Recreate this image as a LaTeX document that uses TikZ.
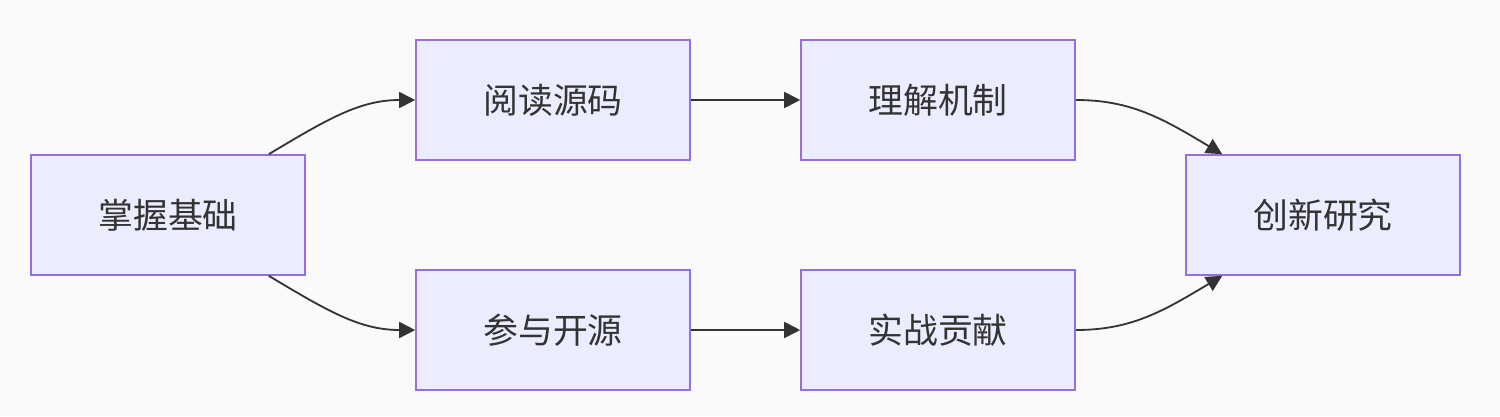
\documentclass[tikz,border=0pt]{standalone}
\usepackage{fontspec}
\setmainfont{Noto Sans CJK SC}
\usetikzlibrary{arrows.meta}
\definecolor{bg}{HTML}{FAFAFA}
\definecolor{boxfill}{HTML}{ECECFF}
\definecolor{boxline}{HTML}{9370DB}
\definecolor{ink}{HTML}{333333}
\begin{document}
\begin{tikzpicture}[x=1bp,y=-1bp,
  box/.style={draw=boxline,fill=boxfill,line width=1.6bp,minimum width=274bp,minimum height=120bp,inner sep=0pt,text=ink,font=\fontsize{35}{40}\selectfont},
  link/.style={draw=ink,line width=1.8bp,-{Triangle[length=16bp,width=16bp]}}]
\fill[bg] (0,0) rectangle (1500,416);
\useasboundingbox (0,0) rectangle (1500,416);
\node[box] (a) at (168,215) {掌握基础};
\node[box] (b) at (553,100) {阅读源码};
\node[box] (c) at (553,330) {参与开源};
\node[box] (d) at (938,100) {理解机制};
\node[box] (e) at (938,330) {实战贡献};
\node[box] (f) at (1323,215) {创新研究};
\draw[link] ([xshift=-37bp]a.north east) .. controls +(60,-36) and +(-55,0) .. (b.west);
\draw[link] ([xshift=-37bp]a.south east) .. controls +(60,36) and +(-55,0) .. (c.west);
\draw[link] (b.east) -- (d.west);
\draw[link] (c.east) -- (e.west);
\draw[link] (d.east) .. controls +(55,0) and +(-60,-36) .. ([xshift=37bp]f.north west);
\draw[link] (e.east) .. controls +(55,0) and +(-60,36) .. ([xshift=37bp]f.south west);
\end{tikzpicture}
\end{document}
